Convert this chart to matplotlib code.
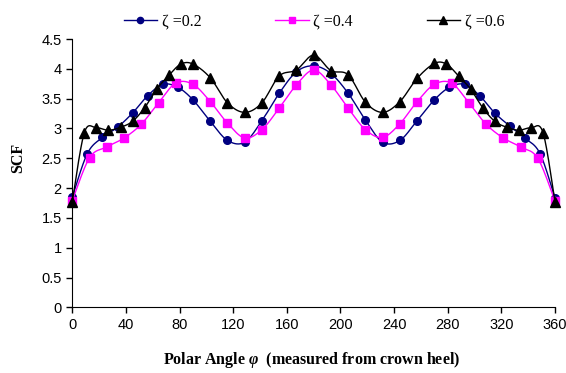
import numpy as np
import matplotlib
matplotlib.use('Agg')
import matplotlib.pyplot as plt

# values (polar angle in degrees, SCF)
angle_02 = [0, 11.25, 22.5, 33.75, 45, 56.25, 67.5, 78.75, 90,
            102.9, 115.7, 128.6, 141.4, 154.3, 167.1, 180,
            192.9, 205.7, 218.6, 231.4, 244.3, 257.1, 270,
            281.25, 292.5, 303.75, 315, 326.25, 337.5, 348.75, 360]
scf_02 = [1.85, 2.58, 2.85, 3.02, 3.26, 3.55, 3.74, 3.69, 3.48,
          3.12, 2.80, 2.77, 3.13, 3.59, 3.95, 4.05,
          3.92, 3.59, 3.14, 2.77, 2.80, 3.13, 3.48,
          3.69, 3.74, 3.55, 3.26, 3.04, 2.84, 2.58, 1.83]

angle_04 = [0, 12.9, 25.7, 38.6, 51.4, 64.3, 77.1, 90,
            102.9, 115.7, 128.6, 141.4, 154.3, 167.1, 180,
            192.9, 205.7, 218.6, 231.4, 244.3, 257.1, 270,
            282.9, 295.7, 308.6, 321.4, 334.3, 347.1, 360]
scf_04 = [1.79, 2.51, 2.69, 2.84, 3.07, 3.43, 3.76, 3.74,
          3.45, 3.09, 2.84, 2.98, 3.34, 3.73, 3.98,
          3.73, 3.34, 2.98, 2.85, 3.08, 3.45, 3.74,
          3.76, 3.43, 3.07, 2.84, 2.69, 2.50, 1.78]

angle_06 = [0, 9, 18, 27, 36, 45, 54, 63, 72, 81, 90,
            102.9, 115.7, 128.6, 141.4, 154.3, 167.1, 180,
            192.9, 205.7, 218.6, 231.4, 244.3, 257.1, 270,
            279, 288, 297, 306, 315, 324, 333, 342, 351, 360]
scf_06 = [1.77, 2.93, 3.01, 2.97, 3.02, 3.12, 3.35, 3.66, 3.89, 4.08, 4.08,
          3.85, 3.43, 3.27, 3.43, 3.88, 3.98, 4.23,
          3.97, 3.90, 3.44, 3.27, 3.45, 3.84, 4.09,
          4.08, 3.88, 3.66, 3.35, 3.12, 3.02, 2.97, 3.01, 2.93, 1.76]

x_ticks = list(range(0, 361, 40))
y_ticks = [0, 0.5, 1, 1.5, 2, 2.5, 3, 3.5, 4, 4.5]
y_ticklabels = ['0', '0.5', '1', '1.5', '2', '2.5', '3', '3.5', '4', '4.5']


def smooth(xs, ys, n=20):
    # excel-like smoothed line (bezier through the points)
    p = np.column_stack([xs, ys]).astype(float)
    p = np.vstack([p[0], p, p[-1]])
    out = []
    t = np.linspace(0, 1, n)[:, None]
    for i in range(1, len(p) - 2):
        p0, p1, p2, p3 = p[i - 1], p[i], p[i + 1], p[i + 2]
        b1 = p1 + (p2 - p0) / 6
        b2 = p2 - (p3 - p1) / 6
        seg = ((1 - t) ** 3) * p1 + 3 * ((1 - t) ** 2) * t * b1 + 3 * (1 - t) * t ** 2 * b2 + t ** 3 * p2
        out.append(seg)
    out = np.vstack(out)
    return out[:, 0], out[:, 1]


plt.rcParams['mathtext.fontset'] = 'custom'
plt.rcParams['mathtext.rm'] = 'Liberation Serif:bold'
plt.rcParams['mathtext.it'] = 'Liberation Serif:italic:bold'

fig = plt.figure(figsize=(5.66, 3.73), dpi=100)
ax = fig.add_axes([0.1277, 0.176, 0.8530, 0.7194])

series = [
    (angle_02, scf_02, '#000080', 'o', 5.5, 'ζ =0.2'),
    (angle_04, scf_04, '#FF00FF', 's', 6, 'ζ =0.4'),
    (angle_06, scf_06, 'black', '^', 7, 'ζ =0.6'),
]
handles = []
for xs, ys, col, mk, ms, lab in series:
    sx, sy = smooth(xs, ys)
    ax.plot(sx, sy, color=col, lw=1, clip_on=False)
    ax.plot(xs, ys, linestyle='', marker=mk, ms=ms, color=col, clip_on=False)
    h, = ax.plot([], [], color=col, lw=1, marker=mk, ms=ms - 1, label=lab)
    handles.append(h)

ax.set_xlim(0, 360)
ax.set_ylim(0, 4.5)
ax.set_xticks(x_ticks)
ax.set_yticks(y_ticks)
ax.set_yticklabels(y_ticklabels)
for s in ['top', 'right']:
    ax.spines[s].set_visible(False)
ax.tick_params(direction='out', length=4, width=1, labelsize=10.5)
for lbl in ax.get_xticklabels() + ax.get_yticklabels():
    lbl.set_fontfamily('Liberation Sans')

ax.set_ylabel('SCF', fontfamily='Liberation Serif', fontweight='bold', fontsize=11.5, va='center')
ax.yaxis.set_label_coords(-0.1125, 0.556)
ax.set_xlabel(r'Polar Angle $\varphi$  (measured from crown heel)', fontfamily='Liberation Serif',
              fontweight='bold', fontsize=11.5, va='center')
ax.xaxis.set_label_coords(0.495, -0.196)

fig.legend(handles=handles, loc='center', bbox_to_anchor=(314 / 566, 1 - 21.5 / 373), ncol=3,
           frameon=False, prop={'family': 'Liberation Serif', 'size': 11.5},
           handlelength=2.1, handletextpad=0.3, columnspacing=4.6)

fig.savefig('out.png', dpi=100)
